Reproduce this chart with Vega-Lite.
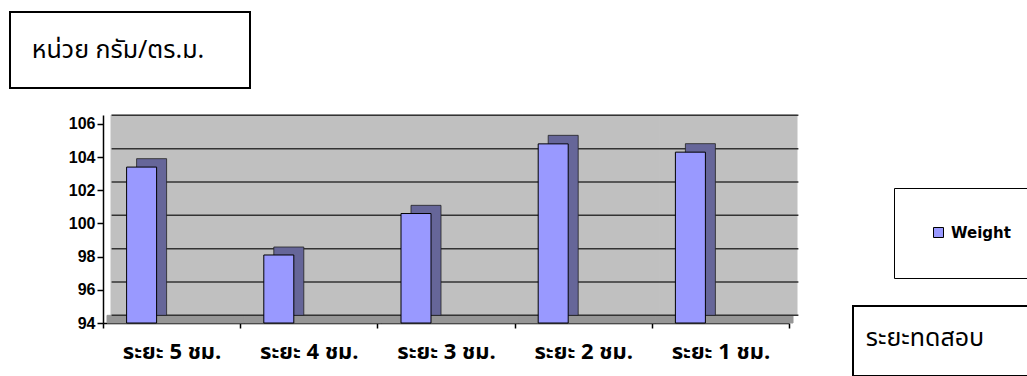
{
  "$schema": "https://vega.github.io/schema/vega-lite/v6.json",
  "padding": {"left": 9, "top": 11, "right": 0, "bottom": 0},
  "background": "white",
  "config": {
    "view": {"stroke": null},
    "font": "DejaVu Sans"
  },
  "vconcat": [
    {
      "width": 240,
      "height": 76,
      "view": {"stroke": "black", "strokeWidth": 2, "fill": "white"},
      "data": {"values": [{"label": "หน่วย กรัม/ตร.ม."}]},
      "mark": {"type": "text", "font": "Noto Sans Thai, Tahoma, Loma, Garuda, sans-serif", "fontSize": 25, "dx": -12, "color": "black"},
      "encoding": {"text": {"field": "label"}}
    },
    {
      "hconcat": [
        {
          "width": 788,
          "height": 208,
          "view": {"fill": null, "stroke": null},
          "data": {
            "values": [
              {"distance": "ระยะ 5 ชม.", "Weight": 103.4},
              {"distance": "ระยะ 4 ชม.", "Weight": 98.1},
              {"distance": "ระยะ 3 ชม.", "Weight": 100.6},
              {"distance": "ระยะ 2 ชม.", "Weight": 104.8},
              {"distance": "ระยะ 1 ชม.", "Weight": 104.3}
            ]
          },
          "layer": [
            {
              "layer": [
                {
                  "mark": {"type": "rect", "xOffset": 8, "fill": "#C0C0C0", "stroke": "#C0C0C0", "strokeWidth": 1},
                  "encoding": {
                    "x": {
                      "field": "distance", "type": "nominal", "axis": null,
                      "scale": {
                        "domain": ["ระยะ 5 ชม.", "ระยะ 4 ชม.", "ระยะ 3 ชม.", "ระยะ 2 ชม.", "ระยะ 1 ชม."],
                        "range": [93, 779], "paddingInner": 0, "paddingOuter": 0
                      }
                    },
                    "y": {
                      "datum": 106.02, "type": "quantitative", "axis": null,
                      "scale": {"domain": [93.54, 106.02], "zero": false, "nice": false}
                    },
                    "y2": {"datum": 94}
                  }
                },
                {
                  "mark": {"type": "rect", "xOffset": 4, "fill": "#969696", "stroke": "#969696", "strokeWidth": 1},
                  "encoding": {
                    "x": {"field": "distance", "type": "nominal"},
                    "y": {"datum": 94, "type": "quantitative"},
                    "y2": {"datum": 93.54}
                  }
                },
                {
                  "data": {"values": [{"level": 94}, {"level": 96}, {"level": 98}, {"level": 100}, {"level": 102}, {"level": 104}, {"level": 106}]},
                  "mark": {"type": "rule", "color": "#333333", "strokeWidth": 1.5, "xOffset": -60, "x2Offset": 78},
                  "encoding": {
                    "x": {"datum": "ระยะ 5 ชม.", "type": "nominal"},
                    "x2": {"datum": "ระยะ 1 ชม."},
                    "y": {"field": "level", "type": "quantitative"}
                  }
                },
                {
                  "mark": {"type": "bar", "width": 30, "xOffset": -20, "fill": "#666699", "stroke": "#222222", "strokeWidth": 0.8},
                  "encoding": {
                    "x": {"field": "distance", "type": "nominal"},
                    "y": {"field": "Weight", "type": "quantitative"},
                    "y2": {"datum": 94}
                  }
                }
              ]
            },
            {
              "mark": {"type": "bar", "width": 30, "xOffset": -30, "stroke": "black", "strokeWidth": 1},
              "encoding": {
                "x": {
                  "field": "distance", "type": "nominal",
                  "scale": {
                    "domain": ["ระยะ 5 ชม.", "ระยะ 4 ชม.", "ระยะ 3 ชม.", "ระยะ 2 ชม.", "ระยะ 1 ชม."],
                    "range": [93, 779], "paddingInner": 0, "paddingOuter": 0
                  },
                  "axis": {
                    "orient": "bottom", "title": null, "labelAngle": 0, "grid": false,
                    "domainColor": "black", "domainWidth": 1.5,
                    "tickColor": "black", "tickWidth": 1.5, "tickSize": 5, "tickBand": "extent",
                    "labelFont": "Noto Sans Thai, Tahoma, Loma, Garuda, sans-serif", "labelFontSize": 22,
                    "labelFontWeight": "bold", "labelColor": "black", "labelPadding": 13
                  }
                },
                "y": {
                  "field": "Weight", "type": "quantitative",
                  "scale": {"domain": [94, 106.54], "zero": false, "nice": false},
                  "axis": {
                    "orient": "left", "offset": -93, "title": null, "grid": false,
                    "values": [94, 96, 98, 100, 102, 104, 106],
                    "domainColor": "black", "domainWidth": 1.5, "tickColor": "black", "tickWidth": 1.5, "tickSize": 6,
                    "labelFont": "Liberation Sans, Arial, sans-serif", "labelFontSize": 16,
                    "labelFontWeight": "bold", "labelColor": "black", "labelPadding": 2
                  }
                },
                "y2": {"datum": 94},
                "fill": {
                  "datum": "Weight", "type": "nominal",
                  "scale": {"range": ["#9999FF"]},
                  "legend": {
                    "orient": "none", "legendX": 884, "legendY": 73, "title": null,
                    "strokeColor": "black", "fillColor": "white", "padding": 37,
                    "symbolType": "square", "symbolSize": 100, "symbolStrokeColor": "black", "symbolStrokeWidth": 1,
                    "labelFont": "DejaVu Sans", "labelFontWeight": "bold", "labelFontSize": 15,
                    "labelColor": "black", "labelOffset": 5
                  }
                }
              }
            }
          ],
          "resolve": {"scale": {"x": "independent", "y": "independent"}}
        },
        {
          "vconcat": [
            {
              "width": 1,
              "height": 191,
              "view": {"stroke": null, "fill": null},
              "data": {"values": [{}]},
              "mark": {"type": "text", "text": ""}
            },
            {
              "width": 180,
              "height": 70,
              "view": {"stroke": "black", "strokeWidth": 2, "fill": "white"},
              "data": {"values": [{"label": "ระยะทดสอบ"}]},
              "mark": {"type": "text", "font": "Noto Sans Thai, Tahoma, Loma, Garuda, sans-serif", "fontSize": 25, "dx": -18, "dy": -3, "color": "black"},
              "encoding": {"text": {"field": "label"}}
            }
          ],
          "spacing": 0,
          "bounds": "flush"
        }
      ],
      "spacing": 55,
      "bounds": "flush",
      "resolve": {"legend": {"fill": "independent"}}
    }
  ],
  "spacing": 27,
  "bounds": "flush",
  "resolve": {"legend": {"fill": "independent"}}
}
